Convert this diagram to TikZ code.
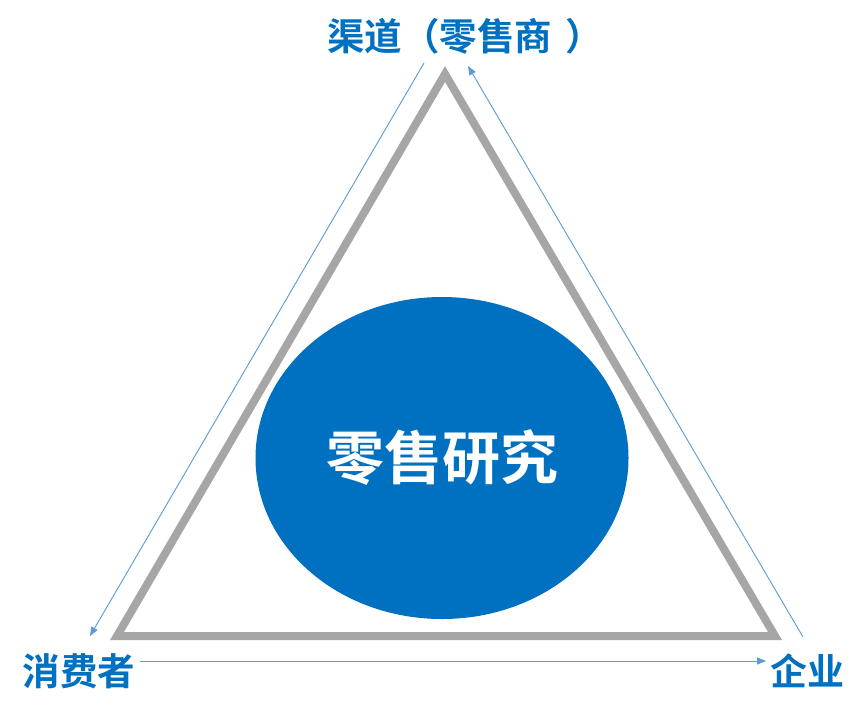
\documentclass[tikz,border=0pt]{standalone}
\usepackage{fontspec}
\newfontfamily\cjk{Noto Sans CJK SC Bold}
\usetikzlibrary{arrows.meta,shapes.geometric}
\definecolor{mainblue}{HTML}{0070C0}
\definecolor{lineblue}{HTML}{5B9BD5}
\definecolor{trigray}{HTML}{A6A6A6}
\tikzset{
  lbl/.style={text=mainblue, font=\cjk\fontsize{37.5}{40}\selectfont, inner sep=0pt},
  flow/.style={draw=lineblue, line width=0.9pt, -{Triangle[length=9pt,width=7pt]}},
  tri/.style={draw=trigray, line width=8pt, line join=miter, miter limit=20}
}
\begin{document}
\begin{tikzpicture}[x=1pt,y=-1pt]
\useasboundingbox[fill=white] (0,0) rectangle (866,716);
% triangle
\coordinate (A) at (445,74);
\coordinate (B) at (117,636);
\coordinate (C) at (775,636);
\draw[tri] (A) -- (B) -- (C) -- cycle;
% ellipse
\node[ellipse, fill=mainblue, minimum width=373pt, minimum height=322pt, inner sep=0pt] (E) at (442,458) {};
\node[text=white, font=\cjk\fontsize{58}{62}\selectfont, inner sep=0pt] (ET) at (442,458) {零售研究};
% labels
\node[lbl, anchor=west] (top) at (327,36) {渠道（零售商\hspace{13pt}）};
\node[lbl] (left) at (79,671) {消费者};
\node[lbl, font=\cjk\fontsize{37}{40}\selectfont] (right) at (807,671) {企业};
% arrows
\coordinate (l1) at (424,63);
\coordinate (l2) at (90,636);
\coordinate (r1) at (803,637);
\coordinate (r2) at (468,66);
\coordinate (b1) at (140,661);
\coordinate (b2) at (766,661);
\draw[flow] (l1) -- (l2);
\draw[flow] (r1) -- (r2);
\draw[flow] (b1) -- (b2);
\end{tikzpicture}
\end{document}
